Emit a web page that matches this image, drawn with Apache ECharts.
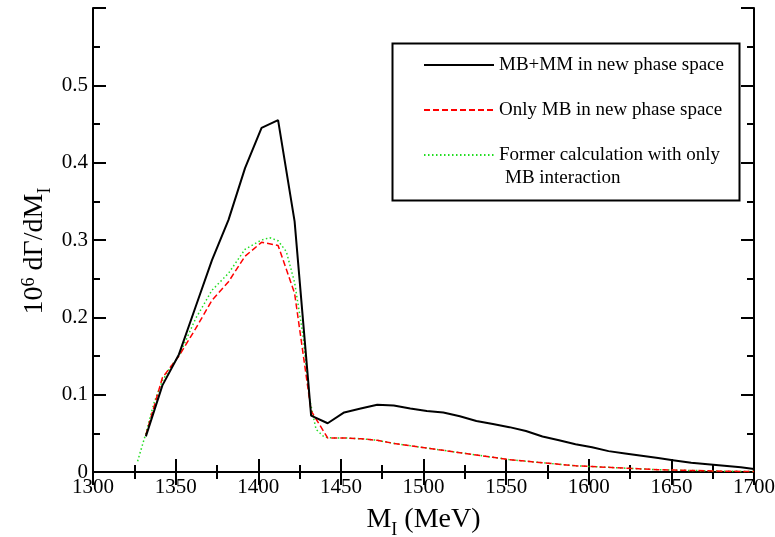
<!DOCTYPE html>
<html>
<head>
<meta charset="utf-8">
<script src="https://cdn.jsdelivr.net/npm/echarts@6/dist/echarts.min.js"></script>
<style>html,body{margin:0;padding:0;background:#fff}#c{width:775px;height:537px}</style>
</head>
<body>
<div id="c"></div>
<script>
// ---- data ----
var massX = [1332,1342,1352,1362,1372,1382,1392,1402,1412,1422,1432,1442,1452,1462,1472,1482,1492,1502,1512,1522,1532,1542,1552,1562,1572,1582,1592,1602,1612,1622,1632,1642,1652,1662,1672,1682,1692,1700];
var mbmm = [0.046,0.112,0.152,0.213,0.274,0.326,0.393,0.445,0.455,0.324,0.073,0.063,0.077,0.082,0.087,0.086,0.082,0.079,0.077,0.072,0.066,0.062,0.058,0.053,0.046,0.041,0.036,0.032,0.027,0.024,0.021,0.018,0.015,0.012,0.010,0.008,0.006,0.004];
var onlyMB = [0.048,0.122,0.150,0.185,0.222,0.246,0.279,0.297,0.293,0.231,0.079,0.044,0.044,0.043,0.041,0.037,0.034,0.031,0.028,0.025,0.022,0.019,0.016,0.014,0.012,0.010,0.008,0.007,0.006,0.005,0.004,0.003,0.0025,0.002,0.0015,0.001,0.0008,0.0005];
var formerX = [1327,1332,1337,1342,1347,1352,1362,1372,1382,1392,1402,1407,1412,1417,1422,1427,1431,1435,1440,1445,1452,1462,1472,1482,1492,1502,1512,1522,1532,1542,1552,1562,1572,1582,1592,1602,1612,1622,1632,1642,1652,1662,1672,1682,1692,1700];
var former = [0.014,0.050,0.090,0.118,0.136,0.150,0.198,0.235,0.257,0.288,0.300,0.303,0.299,0.285,0.245,0.178,0.095,0.055,0.045,0.044,0.044,0.043,0.041,0.037,0.034,0.031,0.028,0.025,0.022,0.019,0.016,0.014,0.012,0.010,0.008,0.007,0.006,0.005,0.004,0.003,0.0025,0.002,0.0015,0.001,0.0008,0.0005];
var seriesNames = ['MB+MM in new phase space','Only MB in new phase space','Former calculation with only MB interaction'];
var xTitle = '{a|M}{sub|I}{a| (MeV)}';
var yTitle = '{a|10}{sup|6}{a| dΓ/dM}{sub|I}';

function pairs(xs, ys){ return xs.map(function(x,i){ return [x, ys[i]]; }); }

var FONT = 'Liberation Serif';
var chart = echarts.init(document.getElementById('c'));
var tickStyle = {show:true, inside:true, length:13, lineStyle:{color:'#000', width:2}};
var minorStyle = {show:true, splitNumber:2, length:7, lineStyle:{color:'#000', width:2}};
var lineStyleAxis = {show:true, lineStyle:{color:'#000', width:2}};
function titleRich(){
  return {
    a:{fontFamily:FONT, fontSize:28, color:'#000', lineHeight:30, verticalAlign:'middle'},
    sup:{fontFamily:FONT, fontSize:18, color:'#000', lineHeight:14, verticalAlign:'top'},
    sub:{fontFamily:FONT, fontSize:18, color:'#000', lineHeight:12, verticalAlign:'bottom', padding:[0,0,-4,0]}
  };
}

chart.setOption({
  animation:false,
  backgroundColor:'#fff',
  grid:{left:93, right:21, top:8, bottom:65, containLabel:false, outerBoundsMode:'none'},
  legend:{
    orient:'vertical', left:423, top:55, padding:0,
    itemWidth:70, itemHeight:20, itemGap:25,
    itemStyle:{opacity:0, color:'rgba(0,0,0,0)', borderWidth:0},
    textStyle:{fontFamily:FONT, fontSize:19, color:'#000', lineHeight:20},
    formatter:function(n){ return n === seriesNames[2] ? 'Former calculation with only' : n; },
    data:seriesNames
  },
  graphic:[
    {type:'rect', shape:{x:392.5, y:43.5, width:347, height:157}, style:{fill:'#fff', stroke:'#000', lineWidth:2}, z:-1, silent:true},
    {type:'text', x:505, y:178, style:{text:'MB interaction', fontFamily:FONT, fontSize:19, fill:'#000', verticalAlign:'middle'}, silent:true}
  ],
  xAxis:[
    {type:'value', min:1300, max:1700, interval:50, position:'bottom',
     axisLine:lineStyleAxis, axisTick:tickStyle, minorTick:minorStyle, splitLine:{show:false},
     axisLabel:{fontFamily:FONT, fontSize:21, color:'#000', margin:5, formatter:function(v){ return String(v); }},
     name:xTitle, nameLocation:'middle', nameGap:33,
     nameTextStyle:{rich:titleRich()}},
    {type:'value', min:1300, max:1700, interval:50, position:'top',
     axisLine:lineStyleAxis, axisTick:tickStyle, minorTick:minorStyle, splitLine:{show:false},
     axisLabel:{show:false}}
  ],
  yAxis:[
    {type:'value', min:0, max:0.6, interval:0.1, position:'left',
     axisLine:lineStyleAxis, axisTick:tickStyle, minorTick:minorStyle, splitLine:{show:false},
     axisLabel:{fontFamily:FONT, fontSize:21, color:'#000', margin:5,
       formatter:function(v){ return v >= 0.59 ? '' : String(Math.round(v*10)/10); }},
     name:yTitle, nameLocation:'middle', nameRotate:90, nameGap:43, nameMoveOverlap:false,
     nameTextStyle:{rich:titleRich(), padding:[0,22,0,0]}},
    {type:'value', min:0, max:0.6, interval:0.1, position:'right',
     axisLine:lineStyleAxis, axisTick:tickStyle, minorTick:minorStyle, splitLine:{show:false},
     axisLabel:{show:false}}
  ],
  series:[
    {name:seriesNames[0], type:'line', symbol:'none', data:pairs(massX, mbmm),
     lineStyle:{color:'#000', width:2}, itemStyle:{color:'#000'}, z:3},
    {name:seriesNames[1], type:'line', symbol:'none', data:pairs(massX, onlyMB),
     lineStyle:{color:'#ff0000', width:1.5, type:[6,3]}, itemStyle:{color:'#ff0000'}, z:2},
    {name:seriesNames[2], type:'line', symbol:'none', data:pairs(formerX, former),
     lineStyle:{color:'#22dd22', width:1.5, type:[1.5,2.5]}, itemStyle:{color:'#22dd22'}, z:1}
  ]
});
</script>
</body>
</html>
